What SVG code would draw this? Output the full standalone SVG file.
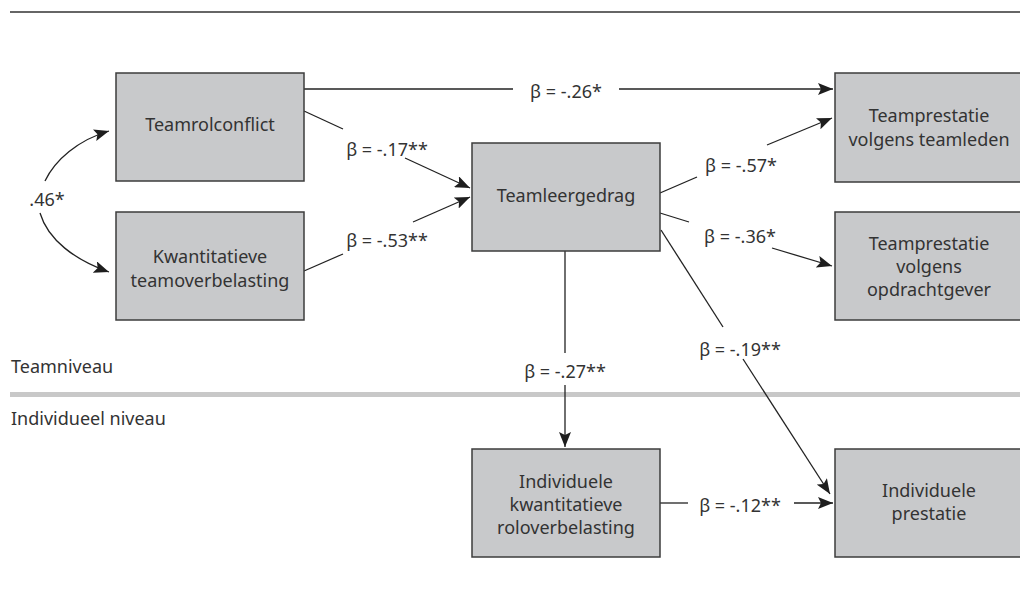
<svg xmlns="http://www.w3.org/2000/svg" width="1020" height="612" viewBox="0 0 1020 612">
<style>
.box{fill:#c8c9cb;stroke:#3c3c3c;stroke-width:1.5}
.t{font-family:"Noto Sans","Open Sans",sans-serif;font-size:18px;fill:#333;text-anchor:middle}
.lv{font-family:"Noto Sans","Open Sans",sans-serif;font-size:18px;fill:#333}
.c{fill:none;stroke:#222;stroke-width:1.3}
</style>
<defs>
<marker id="ah" markerUnits="userSpaceOnUse" markerWidth="16" markerHeight="12" refX="15" refY="6" orient="auto">
<path d="M0,0 L15,6 L0,12 L3,6 z" fill="#1e1e1e"/>
</marker>
</defs>
<rect width="1020" height="612" fill="#fff"/>
<line x1="10" y1="12" x2="1020" y2="12" stroke="#333" stroke-width="1.5"/>
<line x1="10" y1="394.5" x2="1020" y2="394.5" stroke="#c8c8c8" stroke-width="5"/>
<text class="lv" x="11" y="373">Teamniveau</text>
<text class="lv" x="11" y="425">Individueel niveau</text>

<g id="connectors">
<path class="c" d="M304,89 H513"/>
<path class="c" d="M619,89 H833" marker-end="url(#ah)"/>
<path class="c" d="M304,111 L343,129"/>
<path class="c" d="M405,158 L470,188" marker-end="url(#ah)"/>
<path class="c" d="M304,271 L343,254"/>
<path class="c" d="M413,222 L470,197" marker-end="url(#ah)"/>
<path class="c" d="M660,193 L697,177"/>
<path class="c" d="M767,145 L832,118" marker-end="url(#ah)"/>
<path class="c" d="M660,213 L689,222"/>
<path class="c" d="M772,248 L832,266" marker-end="url(#ah)"/>
<path class="c" d="M661,230 L723,327"/>
<path class="c" d="M743,359 L830,494" marker-end="url(#ah)"/>
<path class="c" d="M565,251 V353"/>
<path class="c" d="M565,385 V447" marker-end="url(#ah)"/>
<path class="c" d="M660,503 H688"/>
<path class="c" d="M794,503 H833" marker-end="url(#ah)"/>
<path class="c" d="M45,181 C55,160 78,140 109,131" marker-end="url(#ah)"/>
<path class="c" d="M40,213 C48,240 75,260 109,272" marker-end="url(#ah)"/>
<text class="t" x="566" y="98">β = -.26*</text>
<text class="t" x="387" y="156">β = -.17**</text>
<text class="t" x="387" y="247">β = -.53**</text>
<text class="t" x="741" y="172">β = -.57*</text>
<text class="t" x="740" y="243">β = -.36*</text>
<text class="t" x="740" y="356">β = -.19**</text>
<text class="t" x="565" y="378">β = -.27**</text>
<text class="t" x="740" y="512">β = -.12**</text>
<text class="t" x="47" y="206">.46*</text>
</g>

<g id="teamrolconflict">
<rect class="box" x="116" y="73" width="188" height="108"/>
<text class="t" x="210" y="131">Teamrolconflict</text>
</g>
<g id="kwantitatieve">
<rect class="box" x="116" y="212" width="188" height="108"/>
<text class="t" x="210" y="263">Kwantitatieve</text>
<text class="t" x="210" y="287">teamoverbelasting</text>
</g>
<g id="teamleergedrag">
<rect class="box" x="472" y="143" width="188" height="108"/>
<text class="t" x="566" y="202">Teamleergedrag</text>
</g>
<g id="teamprestatie-teamleden">
<rect class="box" x="835" y="73" width="190" height="109"/>
<text class="t" x="929" y="122">Teamprestatie</text>
<text class="t" x="929" y="146">volgens teamleden</text>
</g>
<g id="teamprestatie-opdrachtgever">
<rect class="box" x="835" y="212" width="190" height="108"/>
<text class="t" x="929" y="250">Teamprestatie</text>
<text class="t" x="929" y="273">volgens</text>
<text class="t" x="929" y="296">opdrachtgever</text>
</g>
<g id="individuele-roloverbelasting">
<rect class="box" x="472" y="449" width="188" height="108"/>
<text class="t" x="566" y="488">Individuele</text>
<text class="t" x="566" y="511">kwantitatieve</text>
<text class="t" x="566" y="534">roloverbelasting</text>
</g>
<g id="individuele-prestatie">
<rect class="box" x="835" y="449" width="190" height="108"/>
<text class="t" x="929" y="497">Individuele</text>
<text class="t" x="929" y="520">prestatie</text>
</g>
</svg>
